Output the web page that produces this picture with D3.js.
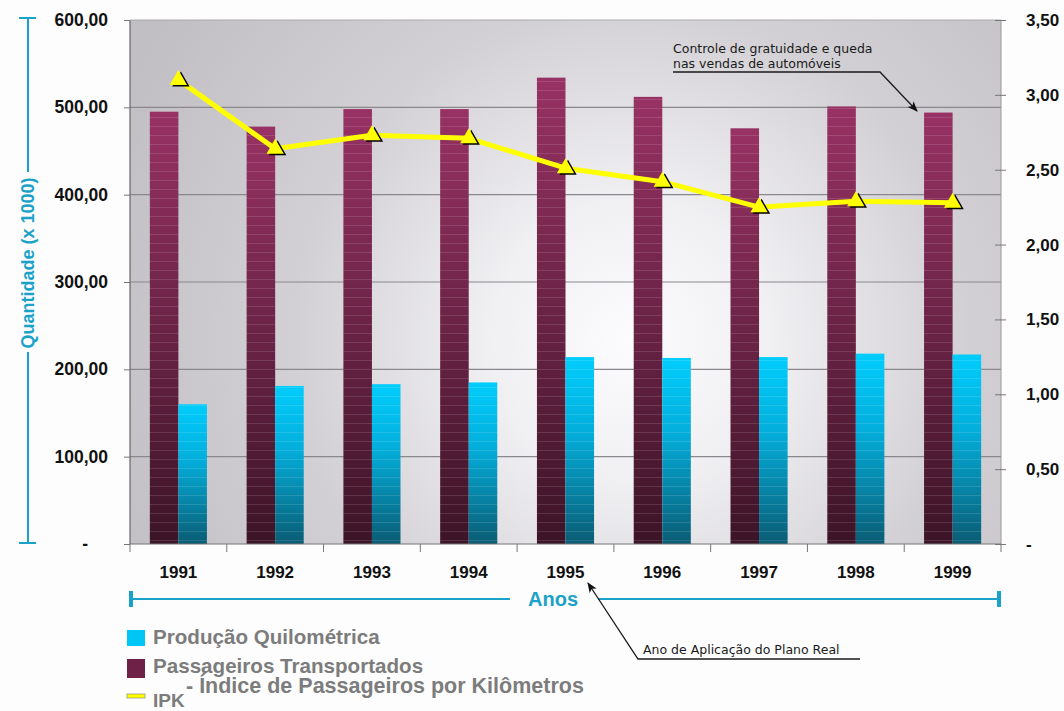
<!DOCTYPE html>
<html><head><meta charset="utf-8">
<script src="https://cdn.jsdelivr.net/npm/d3@7"></script>
<style>
html,body{margin:0;padding:0;background:#fdfdfd;}
svg{display:block;font-family:"Liberation Sans",Arial,sans-serif;}
</style></head>
<body>
<svg id="chart" width="1064" height="711"></svg>
<script>
const years = ["1991","1992","1993","1994","1995","1996","1997","1998","1999"];
const passageiros = [495, 478, 498, 498, 534, 512, 476, 501, 494];
const producao = [160, 181, 183, 185, 214, 213, 214, 218, 217];
const ipk = [3.10, 2.64, 2.73, 2.71, 2.51, 2.42, 2.25, 2.29, 2.28];
const leftTicks = [0, 100, 200, 300, 400, 500, 600];
const rightTicks = [0, 0.5, 1, 1.5, 2, 2.5, 3, 3.5];
const seriesKeys = ["passageiros", "producao"];

const svg = d3.select("#chart");
const L = 130, R = 1001, T = 20, B = 544;

const defs = svg.append("defs");
const rg = defs.append("radialGradient").attr("id","bg")
  .attr("gradientUnits","userSpaceOnUse").attr("cx",630).attr("cy",340).attr("r",560)
  .attr("fx",630).attr("fy",340);
rg.append("stop").attr("offset","0%").attr("stop-color","#fcfbfd");
rg.append("stop").attr("offset","25%").attr("stop-color","#f0eff2");
rg.append("stop").attr("offset","60%").attr("stop-color","#d2d0d4");
rg.append("stop").attr("offset","100%").attr("stop-color","#c1bfc3");

const gp = defs.append("linearGradient").attr("id","gPurple").attr("x1",0).attr("y1",0).attr("x2",0).attr("y2",1);
gp.append("stop").attr("offset","0%").attr("stop-color","#983264");
gp.append("stop").attr("offset","100%").attr("stop-color","#3c1427");
const gc = defs.append("linearGradient").attr("id","gCyan").attr("x1",0).attr("y1",0).attr("x2",0).attr("y2",1);
gc.append("stop").attr("offset","0%").attr("stop-color","#00cdfd");
gc.append("stop").attr("offset","40%").attr("stop-color","#03aedb");
gc.append("stop").attr("offset","100%").attr("stop-color","#0a5c74");
const pat = defs.append("pattern").attr("id","stripes").attr("patternUnits","userSpaceOnUse")
  .attr("width",8).attr("height",9);
pat.append("rect").attr("x",0).attr("y",0).attr("width",8).attr("height",1).attr("fill","#ffffff").attr("opacity",0.12);

const x0 = d3.scaleBand().domain(years).range([L, R]).paddingInner(0.41).paddingOuter(0.205);
const x1 = d3.scaleBand().domain(seriesKeys).range([0, x0.bandwidth()]);
const yL = d3.scaleLinear().domain([0, 600]).range([B, T]);
const yR = d3.scaleLinear().domain([0, 3.5]).range([B, T]);

// plot background
svg.append("rect").attr("x",L).attr("y",T).attr("width",R-L).attr("height",B-T).attr("fill","url(#bg)");

// gridlines
svg.append("g").selectAll("line").data(leftTicks.filter(d=>d>0 && d<600)).join("line")
  .attr("x1",L).attr("x2",R).attr("y1",d=>yL(d)).attr("y2",d=>yL(d))
  .attr("stroke","#8a888c").attr("stroke-width",1.2);

// bars
const fmt = d => d === 0 ? "-" : d3.format(".2f")(d).replace(".", ",");
const groups = svg.append("g").selectAll("g").data(years).join("g")
  .attr("transform", d => `translate(${x0(d)},0)`);
groups.each(function(yr, i){
  const g = d3.select(this);
  const vals = [{k:"passageiros", v:passageiros[i], fill:"url(#gPurple)"},{k:"producao", v:producao[i], fill:"url(#gCyan)"}];
  vals.forEach(o=>{
    g.append("rect").attr("x",x1(o.k)).attr("y",yL(o.v)).attr("width",x1.bandwidth()).attr("height",B-yL(o.v)).attr("fill",o.fill);
    g.append("rect").attr("x",x1(o.k)).attr("y",yL(o.v)).attr("width",x1.bandwidth()).attr("height",B-yL(o.v)).attr("fill","url(#stripes)");
  });
});

// plot frame
svg.append("line").attr("x1",L).attr("x2",L).attr("y1",T).attr("y2",B).attr("stroke","#666").attr("stroke-width",1.2);
svg.append("line").attr("x1",R).attr("x2",R).attr("y1",T).attr("y2",B).attr("stroke","#999").attr("stroke-width",1);
svg.append("line").attr("x1",L).attr("x2",R).attr("y1",B).attr("y2",B).attr("stroke","#777").attr("stroke-width",1.2);
svg.append("line").attr("x1",L).attr("x2",R).attr("y1",T).attr("y2",T).attr("stroke","#aaa").attr("stroke-width",1);

// left axis
const axL = svg.append("g").attr("transform",`translate(${L},0)`)
  .call(d3.axisLeft(yL).tickValues(leftTicks).tickFormat(fmt).tickSize(6).tickPadding(16));
axL.select(".domain").remove();
axL.selectAll(".tick line").attr("stroke","#777");
axL.selectAll("text").attr("font-size",17.5).attr("font-weight","bold").attr("fill","#111").attr("font-family","Liberation Sans, Arial, sans-serif");
axL.selectAll(".tick").filter(d=>d===0).select("text").attr("dx",-20);

// right axis
const axR = svg.append("g").attr("transform",`translate(${R},0)`)
  .call(d3.axisRight(yR).tickValues(rightTicks).tickFormat(fmt).tickSize(5).tickPadding(20));
axR.select(".domain").remove();
axR.selectAll(".tick line").attr("stroke","#777").attr("x1",-6);
axR.selectAll("text").attr("font-size",17).attr("font-weight","bold").attr("fill","#111").attr("font-family","Liberation Sans, Arial, sans-serif");

// bottom axis
const axB = svg.append("g").attr("transform",`translate(0,${B})`)
  .call(d3.axisBottom(x0).tickSize(0).tickPadding(22));
axB.select(".domain").remove();
axB.selectAll("text").attr("font-size",17).attr("font-weight","bold").attr("fill","#111").attr("font-family","Liberation Sans, Arial, sans-serif");
// boundary ticks
const bounds = d3.range(years.length+1).map(i => L + i*x0.step());
svg.append("g").selectAll("line").data(bounds).join("line")
  .attr("x1",d=>d).attr("x2",d=>d).attr("y1",B).attr("y2",B+8).attr("stroke","#777");

// IPK line
const px = (d,i) => x0(years[i]) + x0.bandwidth()/2;
const line = d3.line().x((d,i)=>px(d,i)).y(d=>yR(d));
svg.append("path").datum(ipk).attr("d",line).attr("fill","none").attr("stroke","#ffff00").attr("stroke-width",5).attr("stroke-linejoin","round");
const tri = d3.symbol().type(d3.symbolTriangle).size(130);
svg.append("g").selectAll("path").data(ipk).join("path")
  .attr("d",tri).attr("transform",(d,i)=>`translate(${px(d,i)+2.5},${yR(d)+1.5})`).attr("fill","#000");
svg.append("g").selectAll("path").data(ipk).join("path")
  .attr("d",tri).attr("transform",(d,i)=>`translate(${px(d,i)},${yR(d)})`).attr("fill","#ffff00");

// Y axis title with bracket line
const blue = "#1aa2c9";
svg.append("line").attr("x1",28).attr("x2",28).attr("y1",18).attr("y2",172).attr("stroke",blue).attr("stroke-width",2);
svg.append("line").attr("x1",28).attr("x2",28).attr("y1",352).attr("y2",543).attr("stroke",blue).attr("stroke-width",2);
svg.append("line").attr("x1",19).attr("x2",36).attr("y1",18).attr("y2",18).attr("stroke",blue).attr("stroke-width",2);
svg.append("line").attr("x1",19).attr("x2",36).attr("y1",543).attr("y2",543).attr("stroke",blue).attr("stroke-width",2);
svg.append("text").attr("transform","translate(34,263) rotate(-90)").attr("text-anchor","middle")
  .attr("font-size",18).attr("font-weight","bold").attr("fill",blue).text("Quantidade (x 1000)");

// X axis title with bracket
svg.append("line").attr("x1",131).attr("x2",510).attr("y1",599).attr("y2",599).attr("stroke",blue).attr("stroke-width",2);
svg.append("line").attr("x1",598).attr("x2",999).attr("y1",599).attr("y2",599).attr("stroke",blue).attr("stroke-width",2);
svg.append("rect").attr("x",129).attr("y",591).attr("width",4).attr("height",16).attr("fill",blue);
svg.append("rect").attr("x",997).attr("y",591).attr("width",4).attr("height",16).attr("fill",blue);
svg.append("text").attr("x",553).attr("y",606).attr("text-anchor","middle").attr("font-size",20).attr("font-weight","bold").attr("fill",blue).text("Anos");

// arrow marker
defs.append("marker").attr("id","arr").attr("viewBox","0 0 10 10").attr("refX",9).attr("refY",5)
  .attr("markerWidth",8).attr("markerHeight",8).attr("orient","auto-start-reverse")
  .append("path").attr("d","M0,1 L10,5 L0,9 L2.5,5 Z").attr("fill","#111");

// annotations
const annFont = "DejaVu Sans, sans-serif";
svg.append("text").attr("x",673).attr("y",53).attr("font-size",12.5).attr("font-family",annFont).attr("fill","#1a1a1a").text("Controle de gratuidade e queda");
svg.append("text").attr("x",673).attr("y",68).attr("font-size",12.5).attr("font-family",annFont).attr("fill","#1a1a1a").text("nas vendas de automóveis");
svg.append("path").attr("d","M673,72 L880,72 L917,111").attr("fill","none").attr("stroke","#1a1a1a").attr("stroke-width",1.3).attr("marker-end","url(#arr)");

svg.append("text").attr("x",643).attr("y",654).attr("font-size",12.5).attr("font-family",annFont).attr("fill","#1a1a1a").text("Ano de Aplicação do Plano Real");
svg.append("path").attr("d","M860,659 L638,659 L588,583").attr("fill","none").attr("stroke","#1a1a1a").attr("stroke-width",1.3).attr("marker-end","url(#arr)");

// legend
const lg = svg.append("g");
lg.append("rect").attr("x",127).attr("y",630).attr("width",18).attr("height",16).attr("fill","#00c6f6");
lg.append("text").attr("x",153).attr("y",644).attr("font-size",20.6).attr("font-weight","bold").attr("fill","#7c7c7c").text("Produção Quilométrica");
lg.append("rect").attr("x",127).attr("y",659).attr("width",18).attr("height",19).attr("fill","#6e2046");
lg.append("text").attr("x",153).attr("y",673).attr("font-size",20.6).attr("font-weight","bold").attr("fill","#7c7c7c").text("Passageiros Transportados");
lg.append("rect").attr("x",127).attr("y",694).attr("width",18).attr("height",4).attr("fill","#ffff00").attr("stroke","#777").attr("stroke-width",0.6);
lg.append("text").attr("x",153).attr("y",707).attr("font-size",19).attr("font-weight","bold").attr("fill","#7c7c7c").text("IPK");
lg.append("text").attr("x",186).attr("y",693).attr("font-size",21.5).attr("font-weight","bold").attr("fill","#7c7c7c").text("- Índice de Passageiros por Kilômetros");
</script>
</body></html>
